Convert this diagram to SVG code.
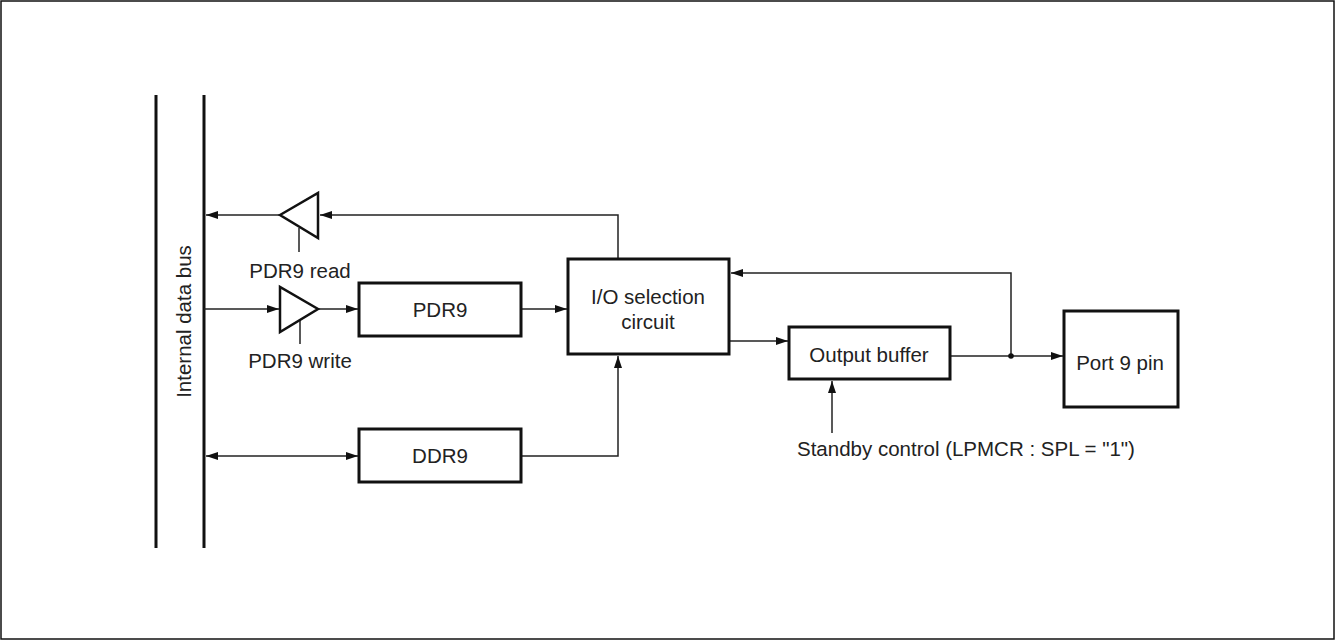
<svg xmlns="http://www.w3.org/2000/svg" width="1335" height="640" viewBox="0 0 1335 640">
<style>
text{font-family:"Liberation Sans",Arial,sans-serif;font-size:20.5px;fill:#222}
.box{fill:#fff;stroke:#111;stroke-width:3}
.bus{stroke:#111;stroke-width:3;fill:none}
.ln{stroke:#222;stroke-width:1.5;fill:none}
.tri{fill:#fff;stroke:#111;stroke-width:2.5;stroke-linejoin:miter}
</style>
<defs>
<marker id="ah" viewBox="0 0 12 8" refX="12" refY="4" markerWidth="12" markerHeight="8" markerUnits="userSpaceOnUse" orient="auto-start-reverse">
<path d="M0,0 L12,4 L0,8 z" fill="#111"/>
</marker>
</defs>
<rect x="1" y="1" width="1333" height="638" fill="#fff" stroke="#111" stroke-width="1.5"/>
<g id="bus">
<line class="bus" x1="156" y1="95" x2="156" y2="548"/>
<line class="bus" x1="204" y1="95" x2="204" y2="548"/>
<text transform="translate(191,321.5) rotate(-90)" text-anchor="middle">Internal data bus</text>
</g>
<g id="connectors">
<polyline class="ln" points="618,259 618,215 320,215" marker-end="url(#ah)"/>
<line class="ln" x1="280" y1="215" x2="206" y2="215" marker-end="url(#ah)"/>
<line class="ln" x1="299" y1="228" x2="299" y2="252"/>
<line class="ln" x1="204" y1="309" x2="279" y2="309" marker-end="url(#ah)"/>
<line class="ln" x1="318" y1="309" x2="358" y2="309" marker-end="url(#ah)"/>
<line class="ln" x1="300" y1="320" x2="300" y2="344"/>
<line class="ln" x1="521" y1="309" x2="567" y2="309" marker-end="url(#ah)"/>
<line class="ln" x1="206" y1="456" x2="358" y2="456" marker-start="url(#ah)" marker-end="url(#ah)"/>
<polyline class="ln" points="521,456 618,456 618,356" marker-end="url(#ah)"/>
<line class="ln" x1="729" y1="341" x2="788" y2="341" marker-end="url(#ah)"/>
<line class="ln" x1="950" y1="356" x2="1063" y2="356" marker-end="url(#ah)"/>
<polyline class="ln" points="1011,356 1011,273 731,273" marker-end="url(#ah)"/>
<circle cx="1011" cy="356" r="2.8" fill="#111"/>
<line class="ln" x1="832" y1="433" x2="832" y2="381" marker-end="url(#ah)"/>
</g>
<g id="read-buffer">
<polygon class="tri" points="280,215 318,193 318,238"/>
<text x="300" y="278" text-anchor="middle">PDR9 read</text>
</g>
<g id="write-buffer">
<polygon class="tri" points="280,287 280,332 318,309"/>
<text x="300" y="368" text-anchor="middle">PDR9 write</text>
</g>
<g id="pdr9">
<rect class="box" x="359" y="283" width="162" height="53"/>
<text x="440" y="317" text-anchor="middle">PDR9</text>
</g>
<g id="ddr9">
<rect class="box" x="359" y="429" width="162" height="53"/>
<text x="440" y="463" text-anchor="middle">DDR9</text>
</g>
<g id="io-selection">
<rect class="box" x="568" y="259" width="161" height="95"/>
<text x="648" y="304" text-anchor="middle">I/O selection</text>
<text x="648" y="329" text-anchor="middle">circuit</text>
</g>
<g id="output-buffer">
<rect class="box" x="789" y="327" width="161" height="52"/>
<text x="869" y="362" text-anchor="middle">Output buffer</text>
</g>
<g id="port9">
<rect class="box" x="1064" y="311" width="114" height="96"/>
<text x="1120" y="370" text-anchor="middle">Port 9 pin</text>
</g>
<g id="standby">
<text x="797" y="456">Standby control (LPMCR : SPL = "1")</text>
</g>
</svg>
